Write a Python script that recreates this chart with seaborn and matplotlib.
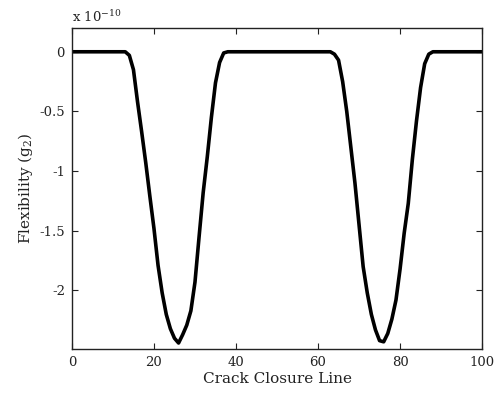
import numpy as np
import pandas as pd
import matplotlib
matplotlib.use("Agg")
import matplotlib.pyplot as plt
import seaborn as sns

# Data (values in units of 1e-10)
x_vals = [0, 13,
          14, 15, 16, 17, 18, 19, 20, 21, 22, 23, 24, 25, 26, 27, 28, 29, 30,
          31, 32, 33, 34, 35, 36, 37, 38,
          63, 64, 65, 66, 67, 68, 69, 70, 71, 72, 73, 74, 75, 76, 77, 78, 79,
          80, 81, 82, 83, 84, 85, 86, 87, 88, 100]
g2_vals = [0, 0,
           -0.03, -0.15, -0.42, -0.67, -0.93, -1.21, -1.48, -1.79, -2.02, -2.20,
           -2.32, -2.40, -2.44, -2.37, -2.29, -2.17, -1.93,
           -1.55, -1.18, -0.88, -0.55, -0.26, -0.09, -0.01, 0,
           0, -0.02, -0.07, -0.25, -0.50, -0.80, -1.10, -1.45, -1.80, -2.02,
           -2.20, -2.33, -2.42, -2.43, -2.36, -2.24, -2.08,
           -1.82, -1.52, -1.27, -0.90, -0.58, -0.30, -0.10, -0.02, 0, 0]
x_ticks = [0, 20, 40, 60, 80, 100]
y_ticks = [0, -0.5, -1, -1.5, -2]
y_tick_labels = ["0", "-0.5", "-1", "-1.5", "-2"]

sns.set_theme(style="ticks")
plt.rcParams['font.family'] = ['DejaVu Serif', 'Liberation Serif']
plt.rcParams['axes.unicode_minus'] = False
plt.rcParams['mathtext.fontset'] = 'dejavuserif'

df = pd.DataFrame({"x": x_vals, "g2": g2_vals})

fig = plt.figure(figsize=(4.96, 3.93), dpi=100)
ax = fig.add_axes([0.145, 0.112, 0.827, 0.817])
sns.lineplot(data=df, x="x", y="g2", ax=ax, color="black", linewidth=2.6,
             sort=False, estimator=None)

ax.set_xlim(0, 100)
ax.set_ylim(-2.49, 0.2)
ax.set_xticks(x_ticks)
ax.set_yticks(y_ticks)
ax.set_yticklabels(y_tick_labels)
ax.tick_params(direction="in", top=True, right=True, length=4, width=0.8,
               labelsize=9.5, colors="#222222", pad=5)
for s in ax.spines.values():
    s.set_visible(True)
    s.set_linewidth(1.0)
    s.set_color("#222222")

ax.set_xlabel("Crack Closure Line", fontsize=11, color="#222222", labelpad=2)
ax.set_ylabel("Flexibility (g$_2$)", fontsize=11, color="#222222", labelpad=3)
ax.text(0.0, 1.008, "x 10$^{-10}$", transform=ax.transAxes, fontsize=9.5,
        ha="left", va="bottom", color="#222222")

fig.savefig("out.png", dpi=100)
